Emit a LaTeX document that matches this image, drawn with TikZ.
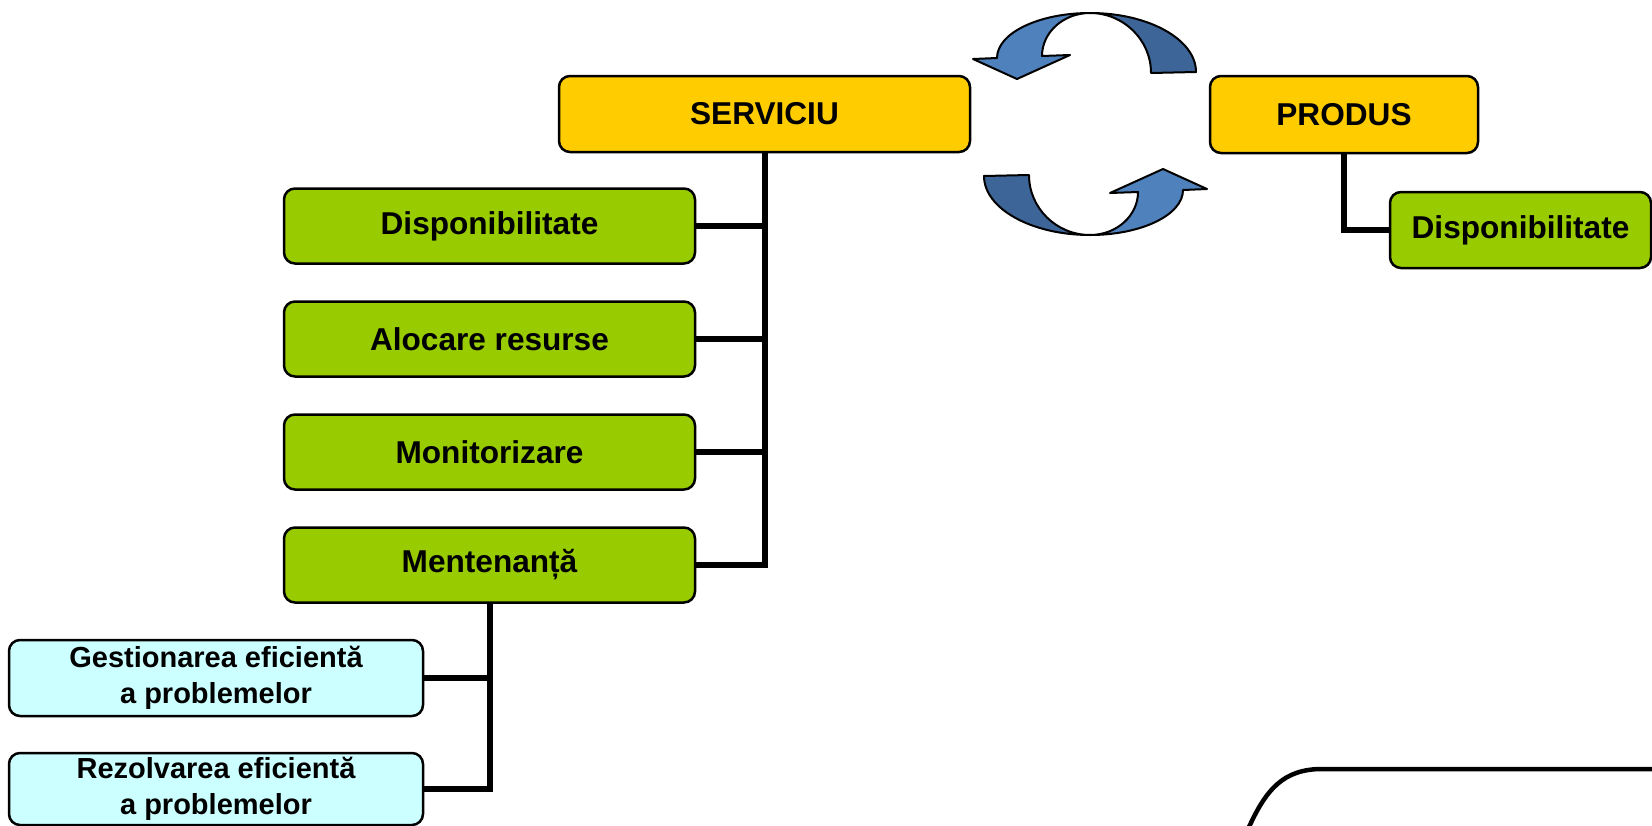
\documentclass[tikz,border=0pt]{standalone}
\usepackage{fontspec}
\setmainfont{Liberation Sans}
\definecolor{gold}{HTML}{FFCC00}
\definecolor{lime}{HTML}{99CC00}
\definecolor{lcyan}{HTML}{CCFFFF}
\definecolor{blueL}{HTML}{4F81BD}
\definecolor{blueD}{HTML}{3D6598}
\begin{document}
\begin{tikzpicture}[x=1pt,y=-1pt,
 box/.style={draw=black,line width=2.5pt,rounded corners=11pt,inner sep=0pt,
   font=\fontsize{31.6}{38}\selectfont\bfseries,align=center},
 topbox/.style={box,fill=gold},
 greenbox/.style={box,fill=lime,minimum width=411pt,minimum height=75pt},
 cyanbox/.style={box,fill=lcyan,minimum width=414pt,
   font=\fontsize{29}{35.5}\selectfont\bfseries},
 conn/.style={line width=6pt},
 outline/.style={line width=4.5pt},
 ribbon/.style={draw=black,line width=2pt,line join=round}]
\useasboundingbox (0,0) rectangle (1652,825);
% connectors (behind boxes)
\coordinate (servbot) at (764.5,150);
\node[topbox,minimum width=411pt,minimum height=76pt] (serv) at (764.5,114) {SERVICIU};
\node[topbox,minimum width=268pt,minimum height=77pt] (prod) at (1344,114.5) {PRODUS};
% service children
\node[greenbox] (d1) at (489.5,226) {Disponibilitate};
\node[greenbox] (d2) at (489.5,339) {Alocare resurse};
\node[greenbox] (d3) at (489.5,452) {Monitorizare};
\node[greenbox] (men) at (489.5,565) {Mentenanță};
% product child
\node[greenbox,minimum width=261pt,minimum height=76pt] (pd) at (1520.5,230) {Disponibilitate};
% maintenance children
\node[cyanbox,minimum height=76pt] (ges) at (216,678) {Gestionarea eficientă\\a problemelor};
\node[cyanbox,minimum height=72pt] (rez) at (216,789) {Rezolvarea eficientă\\a problemelor};
% connectors
\draw[conn] (serv.south) -- (serv.south |- men.east) -- (men.east);
\draw[conn] (d1.east) -- (d1.east -| serv.south);
\draw[conn] (d2.east) -- (d2.east -| serv.south);
\draw[conn] (d3.east) -- (d3.east -| serv.south);
\draw[conn] (prod.south) |- (pd.west);
\draw[conn] (men.south) |- (rez.east);
\draw[conn] (ges.east) -- (ges.east -| men.south);
% circular arrows
\newcommand{\ribbonpair}{%
  \path[ribbon,fill=blueD] (1196,72) .. controls (1196,39.4) and (1148.5,13) .. (1090,13)
     .. controls (1123.7,13) and (1151,40) .. (1151,73) -- cycle;
  \path[ribbon,fill=blueL] (1090,13) .. controls (1039,13) and (997,33) .. (997,58)
     -- (973,59) -- (1017,79) -- (1070,55) -- (1042,56)
     .. controls (1042,32.3) and (1063.5,13) .. (1090,13) -- cycle;}
\ribbonpair
\begin{scope}[rotate around={180:(1090,124)}]
\ribbonpair
\end{scope}
% partial shape bottom right
\draw[outline] (1249,827) .. controls (1266,790) and (1283,769) .. (1322,769) -- (1656,769);
\end{tikzpicture}
\end{document}
